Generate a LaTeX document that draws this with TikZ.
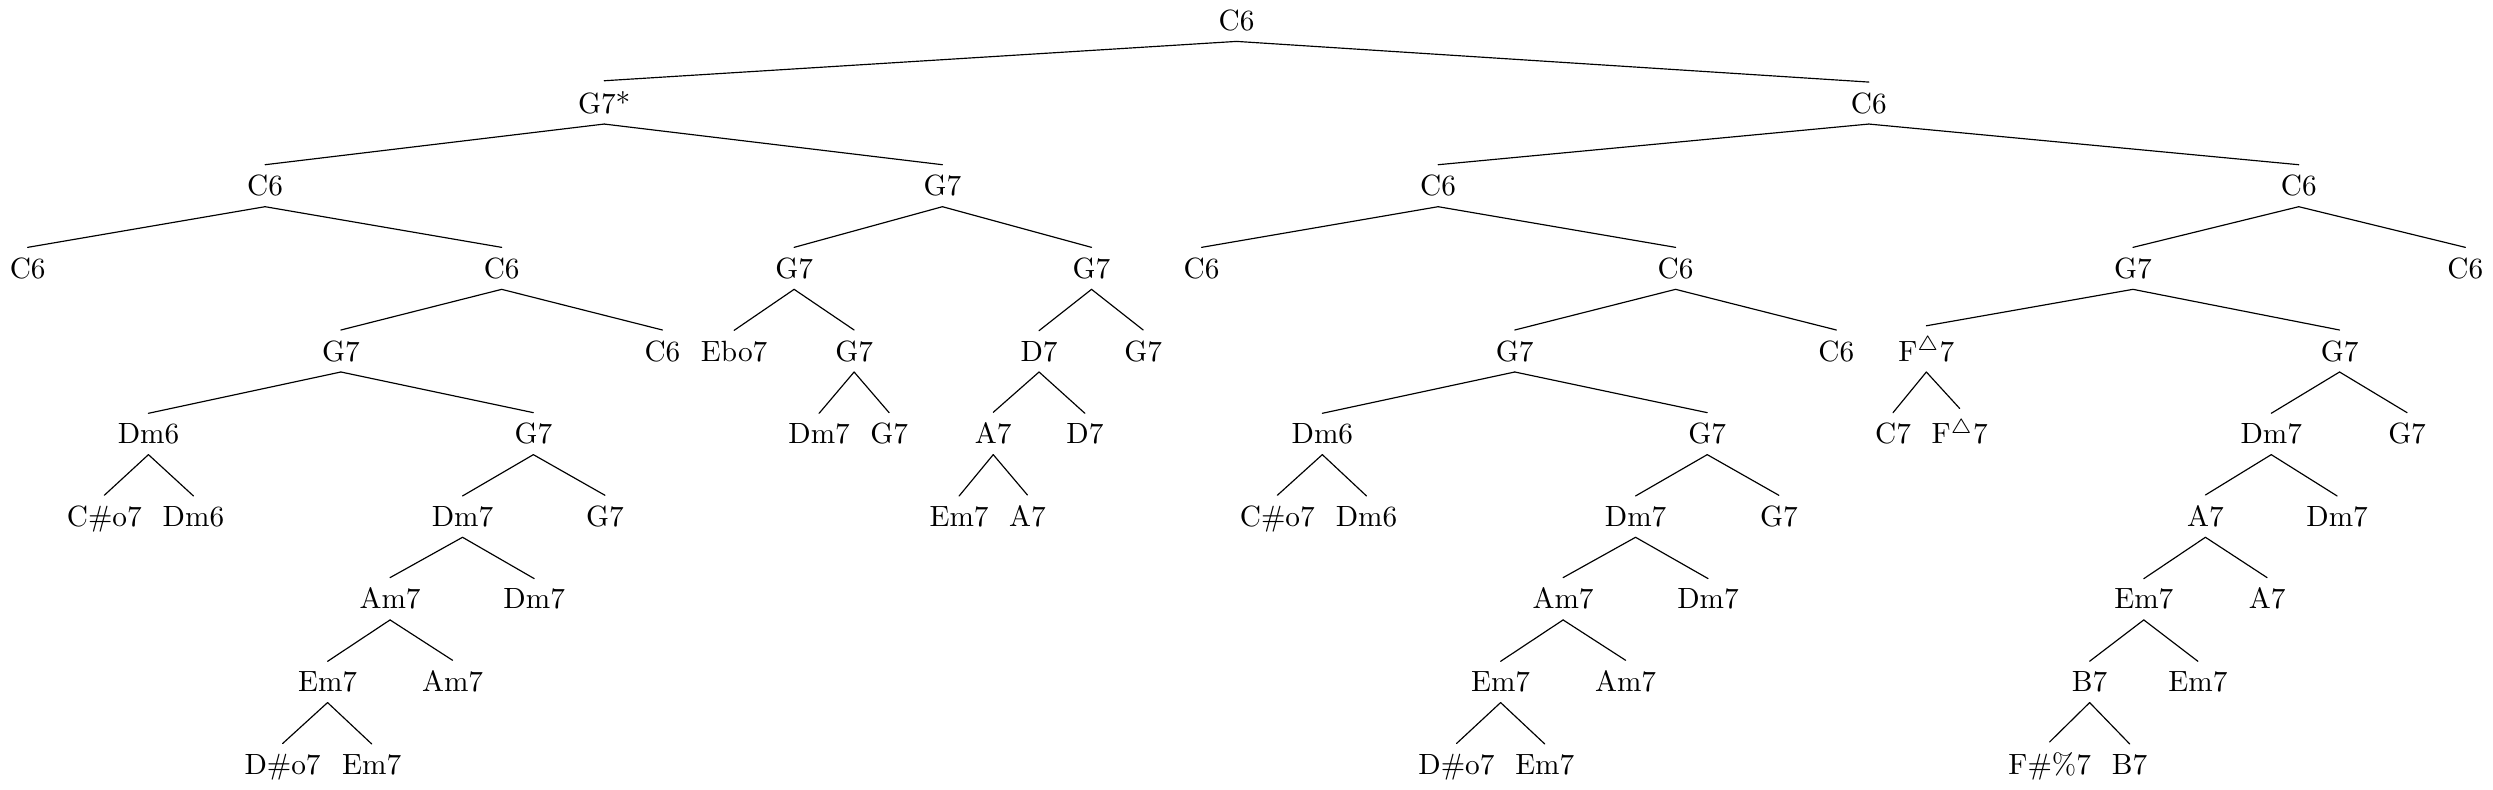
\documentclass[tikz,border=0pt]{standalone}
\begin{document}
\begin{tikzpicture}[line join=round, line cap=round, y=0.992cm,
	every node/.style={anchor=base}]
		\path
		(14.84,0) node (a) {C6}
		(7.25,-1) node (b1) {G7*} (22.43,-1) node (b2) {C6}
		(3.18,-2) node (c1) {C6} (11.31,-2) node (c2) {G7}
		(17.26,-2) node (c3) {C6} (27.59,-2) node (c4) {C6}
		(0.33,-3) node (d1) {C6} (6.02,-3) node (d2) {C6}
		(9.53,-3) node (d3) {G7} (13.10,-3) node (d4) {G7}
		(14.42,-3) node (d5) {C6} (20.11,-3) node (d6) {C6}
		(25.60,-3) node (d7) {G7} (29.59,-3) node (d8) {C6}
		(4.09,-4) node (e1) {G7} (7.95,-4) node (e2) {C6}
		(8.81,-4) node (e3) {Ebo7} (10.25,-4) node (e4) {G7}
		(12.47,-4) node (e5) {D7} (13.72,-4) node (e6) {G7}
		(18.18,-4) node (e7) {G7} (22.04,-4) node (e8) {C6}
		(23.12,-4) node (e9) {F$^\triangle$7} (28.08,-4) node (e10) {G7}
		(1.78,-5) node (f1) {Dm6} (6.40,-5) node (f2) {G7}
		(9.83,-5) node (f3) {Dm7} (10.67,-5) node (f4) {G7}
		(11.92,-5) node (f5) {A7} (13.02,-5) node (f6) {D7}
		(15.87,-5) node (f7) {Dm6} (20.49,-5) node (f8) {G7}
		(22.72,-5) node (f9) {C7} (23.52,-5) node (f10) {F$^\triangle$7}
		(27.26,-5) node (f11) {Dm7} (28.89,-5) node (f12) {G7}
		(1.25,-6) node (g1) {C\#o7} (2.32,-6) node (g2) {Dm6}
		(5.55,-6) node (g3) {Dm7} (7.26,-6) node (g4) {G7}
		(11.51,-6) node (g5) {Em7} (12.33,-6) node (g6) {A7}
		(15.33,-6) node (g7) {C\#o7} (16.40,-6) node (g8) {Dm6}
		(19.63,-6) node (g9) {Dm7} (21.35,-6) node (g10) {G7}
		(26.47,-6) node (g11) {A7} (28.05,-6) node (g12) {Dm7}
		(4.68,-7) node (h1) {Am7} (6.41,-7) node (h2) {Dm7}
		(18.76,-7) node (h3) {Am7} (20.50,-7) node (h4) {Dm7}
		(25.73,-7) node (h5) {Em7} (27.21,-7) node (h6) {A7}
		(3.93,-8) node (i1) {Em7} (5.43,-8) node (i2) {Am7}
		(18.01,-8) node (i3) {Em7} (19.51,-8) node (i4) {Am7}
		(25.08,-8) node (i5) {B7} (26.38,-8) node (i6) {Em7}
		(3.39,-9) node (j1) {D\#o7} (4.46,-9) node (j2) {Em7}
		(17.48,-9) node (j3) {D\#o7} (18.54,-9) node (j4) {Em7}
		(24.60,-9) node (j5) {F\#\%7} (25.56,-9) node (j6) {B7};
		\foreach \p/\q in {a/b1, a/b2, b1/c1, b1/c2, b2/c3, b2/c4,
			c1/d1, c1/d2, c2/d3, c2/d4, c3/d5, c3/d6, c4/d7, c4/d8,
			d2/e1, d2/e2, d3/e3, d3/e4, d4/e5, d4/e6, d6/e7, d6/e8, d7/e9, d7/e10,
			e1/f1, e1/f2, e4/f3, e4/f4, e5/f5, e5/f6, e7/f7, e7/f8, e9/f9, e9/f10, e10/f11, e10/f12,
			f1/g1, f1/g2, f2/g3, f2/g4, f5/g5, f5/g6, f7/g7, f7/g8, f8/g9, f8/g10, f11/g11, f11/g12,
			g3/h1, g3/h2, g9/h3, g9/h4, g11/h5, g11/h6,
			h1/i1, h1/i2, h3/i3, h3/i4, h5/i5, h5/i6,
			i1/j1, i1/j2, i3/j3, i3/j4, i5/j5, i5/j6}
		\draw (\p.south) -- (\q.north);
	\end{tikzpicture}
\end{document}
